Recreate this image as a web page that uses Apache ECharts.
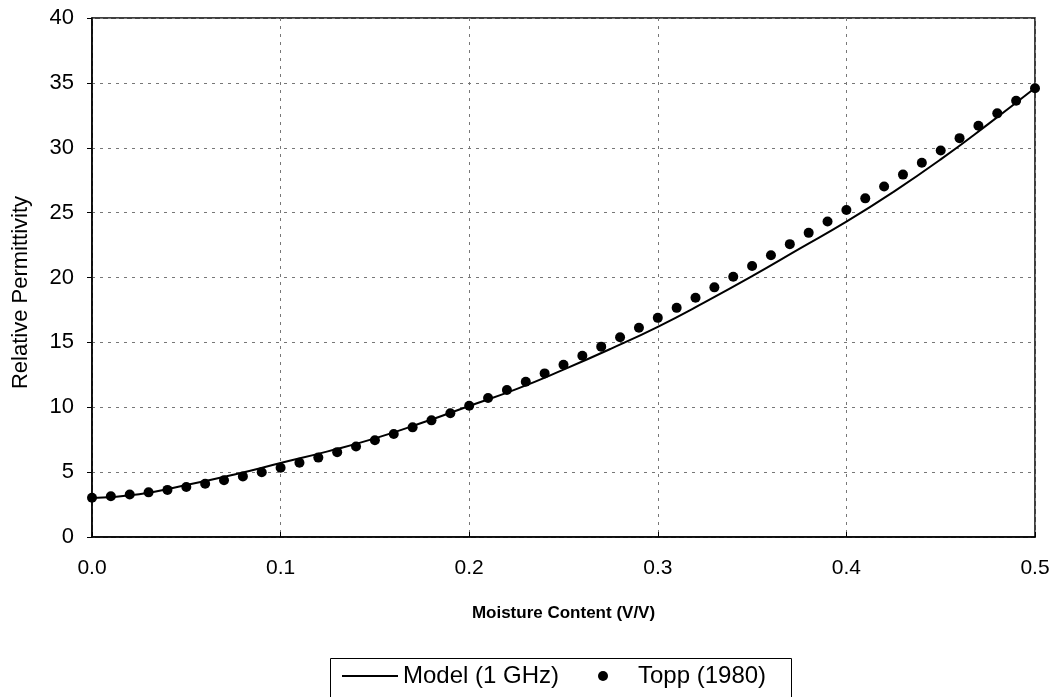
<!DOCTYPE html>
<html>
<head>
<meta charset="utf-8">
<script src="https://cdn.jsdelivr.net/npm/echarts@6/dist/echarts.min.js"></script>
<style>html,body{margin:0;padding:0;background:#fff}#c{width:1062px;height:697px}</style>
</head>
<body>
<div id="c"></div>
<script>
// Model (1 GHz) curve
const modelX = [0,0.025,0.05,0.075,0.1,0.125,0.15,0.175,0.2,0.225,0.25,0.275,0.3,0.325,0.35,0.375,0.4,0.425,0.45,0.475,0.5];
const modelY = [3.0,3.3,4.0,4.8,5.7,6.6,7.6,8.8,10.1,11.4,12.9,14.5,16.2,18.1,20.1,22.2,24.3,26.6,29.1,31.8,34.6];
// Topp (1980) points
const toppX = [0,0.01,0.02,0.03,0.04,0.05,0.06,0.07,0.08,0.09,0.1,0.11,0.12,0.13,0.14,0.15,0.16,0.17,0.18,0.19,0.2,0.21,0.22,0.23,0.24,0.25,0.26,0.27,0.28,0.29,0.3,0.31,0.32,0.33,0.34,0.35,0.36,0.37,0.38,0.39,0.4,0.41,0.42,0.43,0.44,0.45,0.46,0.47,0.48,0.49,0.5];
const toppY = [3.03,3.14,3.27,3.44,3.63,3.85,4.10,4.37,4.67,4.99,5.34,5.72,6.12,6.54,6.98,7.45,7.94,8.45,8.99,9.54,10.12,10.71,11.33,11.96,12.61,13.28,13.97,14.67,15.40,16.13,16.89,17.66,18.44,19.24,20.06,20.88,21.72,22.57,23.44,24.31,25.20,26.10,27.01,27.93,28.85,29.79,30.74,31.69,32.65,33.62,34.59];
const xTicks = [0,0.1,0.2,0.3,0.4,0.5];
const yTicks = [0,5,10,15,20,25,30,35,40];

const chart = echarts.init(document.getElementById('c'));
const font = 'Arial, "Liberation Sans", sans-serif';
const legendText = {fontFamily: font, fontSize: 24, color: '#000'};
chart.setOption({
  animation: false,
  backgroundColor: '#fff',
  grid: {left: 92, right: 27, top: 18, bottom: 160, show: true, borderColor: '#000', borderWidth: 1.5, containLabel: false},
  xAxis: {
    type: 'value', min: xTicks[0], max: xTicks[xTicks.length-1], interval: 0.1,
    name: 'Moisture Content (V/V)', nameLocation: 'middle', nameGap: 68,
    nameTextStyle: {fontFamily: font, fontSize: 17, fontWeight: 'bold', color: '#000'},
    axisLine: {show: true, lineStyle: {color: '#000', width: 1.5}},
    axisTick: {show: true, inside: true, length: 5, lineStyle: {color: '#000'}},
    axisLabel: {fontFamily: font, fontSize: 21, color: '#000', margin: 21, formatter: v => v.toFixed(1)},
    splitLine: {show: true, lineStyle: {color: '#777', type: [3, 5], width: 1}}
  },
  yAxis: {
    type: 'value', min: yTicks[0], max: yTicks[yTicks.length-1], interval: 5,
    name: 'Relative Permittivity', nameLocation: 'middle', nameGap: 60,
    nameTextStyle: {fontFamily: font, fontSize: 22, color: '#000', padding: [0, 30, 0, 0]},
    axisLine: {show: true, lineStyle: {color: '#000', width: 1.5}},
    axisTick: {show: true, length: 5, lineStyle: {color: '#000'}},
    axisLabel: {fontFamily: font, fontSize: 22, color: '#000', margin: 18},
    splitLine: {show: true, lineStyle: {color: '#777', type: [3, 5], width: 1}}
  },
  legend: [
    {
      left: 342, top: 664, itemWidth: 56, itemHeight: 10, padding: 0,
      textStyle: legendText,
      data: [{name: 'Model (1 GHz)', icon: 'path://M0,0L56,0L56,2L0,2Z', itemStyle: {color: '#000'}}]
    },
    {
      left: 598, top: 664, itemWidth: 60, itemHeight: 10, padding: 0,
      textStyle: legendText,
      data: [{name: 'Topp (1980)', icon: 'circle', itemStyle: {color: '#000'}}]
    }
  ],
  graphic: [{
    type: 'rect', silent: true,
    shape: {x: 330.5, y: 658.5, width: 461, height: 50},
    style: {fill: 'none', stroke: '#000', lineWidth: 1}
  }],
  series: [
    {
      name: 'Model (1 GHz)', type: 'line', smooth: true, symbol: 'none',
      lineStyle: {color: '#000', width: 2}, itemStyle: {color: '#000'},
      data: modelX.map((x, i) => [x, modelY[i]]), z: 2
    },
    {
      name: 'Topp (1980)', type: 'scatter', symbol: 'circle', symbolSize: 10,
      itemStyle: {color: '#000', opacity: 1},
      data: toppX.map((x, i) => [x, toppY[i]]), z: 3
    }
  ]
});
</script>
</body>
</html>
